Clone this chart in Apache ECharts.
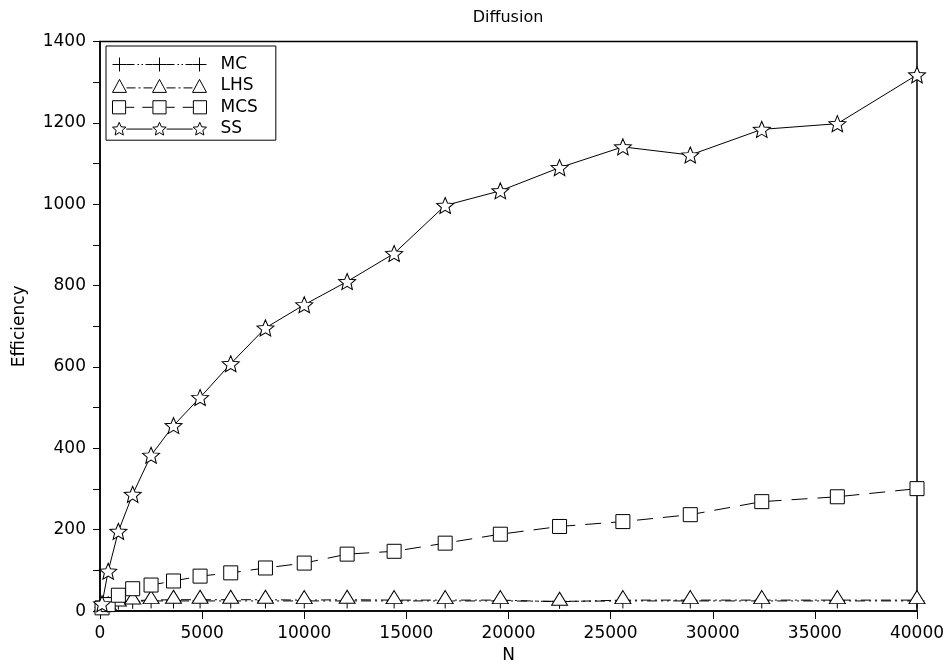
<!DOCTYPE html>
<html><head><meta charset="utf-8">
<script src="https://cdn.jsdelivr.net/npm/echarts@6/dist/echarts.min.js"></script>
<style>html,body{margin:0;padding:0;background:#fff;width:100%;height:100%;overflow:hidden}#c{position:absolute;left:0;top:0;width:949px;height:669px}</style>
</head><body><div id="c"></div>
<script>
const N   = [100, 400, 900, 1600, 2500, 3600, 4900, 6400, 8100, 10000, 12100, 14400, 16900, 19600, 22500, 25600, 28900, 32400, 36100, 40000];
const MC  = [9, 16, 22, 24, 25, 25, 25, 25, 25, 25, 25, 25, 25, 25, 24, 25, 25, 25, 25, 25];
const LHS = [7, 12, 21, 26, 27, 28, 28, 28, 28, 27, 28, 27, 27, 27, 23, 27, 27, 27, 27, 27];
const MCS = [8, 16, 39, 55, 64, 74, 86, 94, 106, 118, 140, 147, 167, 189, 208, 220, 237, 269, 281, 301];
const SS  = [18, 98, 196, 287, 383, 456, 525, 608, 696, 753, 810, 879, 997, 1033, 1090, 1141, 1121, 1184, 1198, 1318];
const names = ['MC', 'LHS', 'MCS', 'SS'];
const values = [MC, LHS, MCS, SS];

const FONT = 'DejaVu Sans';
const STAR = 'path://M10,0 L12.645,6.359 L19.511,6.910 L14.280,11.391 L15.878,18.090 L10,14.5 L4.122,18.090 L5.720,11.391 L0.489,6.910 L7.355,6.359 Z';
const PLUS = 'path://M0,7 L14,7 M7,0 L7,14';

// legend icons (94 x 14 box, three markers)
function markerPath(kind, cx) {
  const l = cx - 7;
  if (kind === 'plus') return `M${l},7 L${l+14},7 M${cx},0 L${cx},14 `;
  if (kind === 'tri') return `M${l},13.5 L${cx},0.5 L${l+14},13.5 Z `;
  if (kind === 'rect') return `M${l+0.5},0.5 L${l+13.5},0.5 L${l+13.5},13.5 L${l+0.5},13.5 Z `;
  const pts = [];
  for (let k = 0; k < 10; k++) {
    const r = k % 2 === 0 ? 7 : 3.2;
    const a = -Math.PI / 2 + k * Math.PI / 5;
    pts.push((cx + r * Math.cos(a)).toFixed(2) + ',' + (7.3 + r * Math.sin(a)).toFixed(2));
  }
  return 'M' + pts.join(' L') + ' Z ';
}
function segs(list, y) { return list.map(s => `M${s[0]},${y} L${s[1]},${y} `).join(''); }
function legendIcon(kind, pattern, y) {
  let p = '';
  [7, 47, 87].forEach(cx => { p += markerPath(kind, cx); });
  [14, 54].forEach(o => { p += segs(pattern.map(s => [o + s[0], o + s[1]]), y); });
  return 'path://' + p;
}
const icons = [
  legendIcon('plus', [[0, 8], [11, 12.5], [15, 16.5], [19, 26]], 7),
  legendIcon('tri',  [[0, 9], [12, 14], [17, 26]], 9),
  legendIcon('rect', [[0, 8], [16, 26]], 7),
  legendIcon('star', [[0, 26]], 7)
];

const symbols = [PLUS, 'triangle', 'rect', STAR];
const sizes = [15, [16, 13], 14, [17, 16]];
const offsets = [[0, 0], [0, -3], [0, 0], [0, 0]];
const dashes = [[10, 4, 2, 4, 2, 4], [10, 4, 2, 4], [16, 10], 'solid'];

const chart = echarts.init(document.getElementById('c'), null, { width: 949, height: 669 });
chart.setOption({
  backgroundColor: '#fff',
  animation: false,
  title: {
    text: 'Diffusion', left: 508, top: 10, padding: 0, textAlign: 'center',
    textStyle: { fontFamily: FONT, fontSize: 16, fontWeight: 'normal', color: '#000' }
  },
  grid: { left: 100, top: 41.5, width: 817, height: 574, show: true, borderColor: '#000', borderWidth: 1.5, backgroundColor: 'transparent' },
  legend: {
    orient: 'vertical', left: 106, top: 46,
    padding: [10, 18, 3, 6],
    itemWidth: 94, itemHeight: 14, itemGap: 4.4,
    borderColor: '#000', borderWidth: 1, backgroundColor: '#fff',
    symbolKeepAspect: true,
    itemStyle: { color: '#fff', borderColor: '#000', borderWidth: 1 },
    textStyle: { fontFamily: FONT, fontSize: 17, color: '#000', lineHeight: 14, padding: [0, 0, 0, 9] },
    data: names.map((n, i) => ({ name: n, icon: icons[i] }))
  },
  xAxis: {
    type: 'value', min: 0, max: 40000, interval: 5000,
    name: 'N', nameLocation: 'middle', nameGap: 34,
    nameTextStyle: { fontFamily: FONT, fontSize: 17, color: '#000' },
    axisLine: { show: true, lineStyle: { color: '#000', width: 1.5 } },
    axisTick: { show: true, length: 8, lineStyle: { color: '#000' } },
    axisLabel: { fontFamily: FONT, fontSize: 17, color: '#000', margin: 14, formatter: v => String(v) },
    splitLine: { show: false }
  },
  yAxis: {
    type: 'value', min: 0, max: 1400, interval: 200,
    name: 'Efficiency', nameLocation: 'middle', nameGap: 72,
    nameTextStyle: { fontFamily: FONT, fontSize: 17, color: '#000' },
    axisLine: { show: true, lineStyle: { color: '#000', width: 1.5 } },
    axisTick: { show: true, length: 7, lineStyle: { color: '#000' } },
    minorTick: { show: true, splitNumber: 2, length: 7, lineStyle: { color: '#000', width: 1 } },
    axisLabel: { fontFamily: FONT, fontSize: 17, color: '#000', margin: 14, formatter: v => String(v) },
    splitLine: { show: false }
  },
  series: names.map((n, i) => ({
    name: n, type: 'line',
    data: N.map((x, j) => [x, values[i][j]]),
    symbol: symbols[i], symbolSize: sizes[i], symbolOffset: offsets[i], showAllSymbol: true,
    color: '#000',
    lineStyle: { color: '#000', width: 1, type: dashes[i] },
    itemStyle: { color: '#fff', borderColor: '#000', borderWidth: 1 },
    emphasis: { disabled: true }
  }))
});
</script></body></html>
